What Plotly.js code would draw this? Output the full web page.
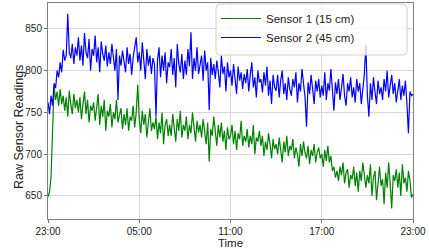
<!DOCTYPE html>
<html>
<head>
<meta charset="utf-8">
<script src="https://cdn.plot.ly/plotly-3.0.1.min.js"></script>
<style>html,body{margin:0;padding:0;background:#fff;}#chart{width:429px;height:249px;}</style>
</head>
<body>
<div id="chart"></div>
<script>
// Sampling: one reading every 6 minutes from 23:00 to 23:00 next day
const startTime = "2024-01-01 23:00";
const stepMinutes = 6;

const seriesNames = ["Sensor 1 (15 cm)", "Sensor 2 (45 cm)"];
const seriesColors = ["green", "blue"];

const sensor1 = [
  649, 655, 673, 745, 782, 765, 775, 758, 778, 760,
  770, 752, 768, 745, 776, 760, 748, 772, 755, 765,
  750, 768, 742, 760, 775, 748, 765, 738, 758, 752,
  762, 740, 755, 772, 735, 758, 745, 765, 728, 752,
  745, 760, 732, 750, 742, 765, 738, 748, 755, 730,
  748, 735, 755, 728, 745, 740, 758, 732, 750, 783,
  742, 725, 752, 735, 748, 720, 740, 755, 728, 738,
  730, 745, 718, 738, 725, 750, 712, 735, 742, 722,
  735, 722, 748, 730, 715, 742, 728, 752, 720, 735,
  728, 745, 718, 735, 725, 750, 730, 715, 740, 726,
  735, 720, 742, 728, 712, 738, 691, 730, 722, 745,
  725, 710, 735, 720, 738, 715, 728, 705, 732, 718,
  722, 735, 712, 728, 705, 725, 718, 740, 710, 722,
  715, 730, 708, 722, 712, 735, 700, 720, 715, 728,
  710, 722, 698, 715, 705, 725, 712, 695, 718, 706,
  712, 700, 720, 705, 690, 715, 702, 722, 698, 710,
  705, 718, 695, 708, 700, 685, 712, 698, 715, 702,
  695, 710, 688, 705, 698, 712, 690, 702, 708, 695,
  700, 685, 705, 692, 710, 690, 698, 680, 685, 672,
  680, 668, 685, 675, 690, 665, 678, 682, 660, 675,
  670, 685, 662, 678, 655, 680, 668, 690, 672, 660,
  675, 665, 688, 650, 672, 680, 645, 668, 685, 662,
  670, 640, 678, 660, 690, 665, 635, 675, 668, 682,
  660, 678, 650, 688, 665, 672, 655, 680, 668, 648,
  652
];

const sensor2 = [
  762, 748, 770, 758, 785, 779, 800, 792, 810, 798,
  825, 812, 818, 868, 822, 815, 832, 808, 828, 818,
  840, 812, 830, 806, 845, 822, 815, 838, 800, 826,
  818, 842, 810, 828, 798, 835, 820, 812, 830, 805,
  822, 808, 832, 815, 800, 826, 765, 818, 806, 824,
  812, 798, 828, 808, 820, 795, 816, 830, 840, 810,
  822, 800, 834, 812, 790, 826, 806, 818, 796, 815,
  808, 745, 812, 828, 792, 818, 800, 822, 785, 810,
  804, 826, 795, 815, 780, 832, 808, 798, 820, 790,
  812, 795, 826, 805, 846, 790, 815, 800, 828, 796,
  805, 818, 788, 824, 800, 810, 753, 815, 795, 808,
  790, 812, 798, 780, 818, 796, 805, 775, 810, 792,
  800, 782, 808, 790, 772, 805, 788, 798, 778, 796,
  785, 802, 775, 795, 810, 780, 792, 768, 800, 786,
  790, 774, 798, 782, 805, 770, 788, 760, 795, 780,
  776, 795, 768, 788, 800, 772, 785, 765, 792, 778,
  770, 790, 780, 798, 762, 785, 775, 802, 780, 768,
  733, 786, 772, 795, 778, 760, 788, 775, 790, 768,
  782, 770, 798, 765, 785, 776, 802, 770, 752, 786,
  772, 790, 765, 780, 796, 770, 758, 785, 775, 792,
  768, 780, 762, 790, 775, 785, 760, 778, 795, 831,
  770, 745, 785, 765, 792, 775, 760, 788, 772, 780,
  765, 790, 775, 800, 768, 782, 795, 772, 785, 762,
  778, 790, 765, 782, 770, 788, 760, 725, 775, 770,
  772
];

const xTickLabels = ["23:00", "05:00", "11:00", "17:00", "23:00"];
const yTickValues = [650, 700, 750, 800, 850];

function pad(n){ return (n < 10 ? "0" : "") + n; }
function timeAt(i){
  const total = 23 * 60 + i * stepMinutes;
  const day = 1 + Math.floor(total / 1440);
  const rem = total % 1440;
  return "2024-01-" + pad(day) + " " + pad(Math.floor(rem / 60)) + ":" + pad(rem % 60);
}
const times = sensor1.map((_, i) => timeAt(i));
const tickTimes = xTickLabels.map((_, k) => timeAt(k * 60));

const FONT = "Liberation Sans, Arial, sans-serif";

const traces = [sensor1, sensor2].map((vals, k) => ({
  x: times, y: vals, type: "scatter", mode: "lines",
  name: seriesNames[k],
  line: {color: seriesColors[k], width: 1.2}
}));

// legend frame (rounded box) in paper coordinates
const bx0 = 0.4603, bx1 = 0.9836, by0 = 0.7593, by1 = 0.9954;
const rx = 4 / 365, ry = 4 / 216;
const boxPath =
  `M${bx0 + rx},${by1} L${bx1 - rx},${by1} Q${bx1},${by1} ${bx1},${by1 - ry} ` +
  `L${bx1},${by0 + ry} Q${bx1},${by0} ${bx1 - rx},${by0} ` +
  `L${bx0 + rx},${by0} Q${bx0},${by0} ${bx0},${by0 + ry} ` +
  `L${bx0},${by1 - ry} Q${bx0},${by1} ${bx0 + rx},${by1} Z`;

const layout = {
  width: 429, height: 249,
  margin: {l: 48, r: 16, t: 3, b: 30},
  paper_bgcolor: "#fff", plot_bgcolor: "#fff",
  font: {family: FONT, size: 10, color: "#222"},
  showlegend: true,
  legend: {
    x: 0.4603, y: 0.9954, xanchor: "left", yanchor: "top",
    bgcolor: "rgba(0,0,0,0)", borderwidth: 0,
    itemwidth: 40,
    font: {family: FONT, size: 11.5, color: "#222"}
  },
  shapes: [{
    type: "path", xref: "paper", yref: "paper", path: boxPath,
    fillcolor: "rgba(255,255,255,0.8)", line: {color: "#d0d0d0", width: 1},
    layer: "above"
  }],
  annotations: [{
    text: "Raw Sensor Readings", textangle: -90,
    xref: "paper", yref: "paper", x: 0, y: (219 - 127) / 216,
    xshift: -29, xanchor: "center", yanchor: "middle", showarrow: false,
    font: {family: FONT, size: 12.5, color: "#222"}
  }],
  xaxis: {
    type: "date",
    range: [times[0], times[times.length - 1]],
    tickmode: "array", tickvals: tickTimes, ticktext: xTickLabels,
    showgrid: true, gridcolor: "#d8d8d8", gridwidth: 1,
    showline: true, mirror: true, linecolor: "#808080", linewidth: 1,
    ticks: "outside", ticklen: 3, tickcolor: "#707070",
    zeroline: false,
    tickfont: {family: FONT, size: 10, color: "#222"},
    title: {text: "Time", font: {family: FONT, size: 11.5, color: "#222"}, standoff: 4}
  },
  yaxis: {
    range: [622.4, 881],
    tickmode: "array", tickvals: yTickValues, ticktext: yTickValues.map(String),
    showgrid: true, gridcolor: "#d8d8d8", gridwidth: 1,
    showline: true, mirror: true, linecolor: "#808080", linewidth: 1,
    ticks: "outside", ticklen: 3, tickcolor: "#707070",
    zeroline: false,
    tickfont: {family: FONT, size: 10, color: "#222"}
  }
};

Plotly.newPlot("chart", traces, layout, {displayModeBar: false, staticPlot: true});
</script>
</body>
</html>
